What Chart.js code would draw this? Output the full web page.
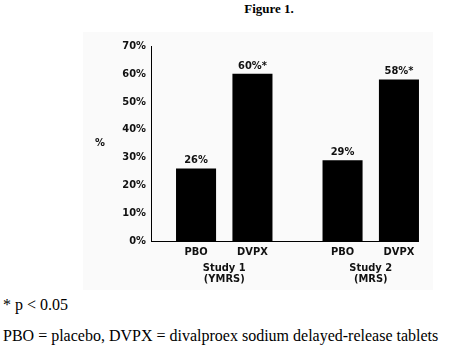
<!DOCTYPE html>
<html>
<head>
<meta charset="utf-8">
<script src="https://cdn.jsdelivr.net/npm/chart.js@4/dist/chart.umd.min.js"></script>
<style>
  body { margin: 0; width: 450px; height: 353px; background: #fff; position: relative; overflow: hidden; }
  #panel { position: absolute; left: 83px; top: 32px; width: 350px; height: 258px; background: #fafafa; }
  #wrap { position: absolute; left: 0; top: 0; width: 450px; height: 290px; }
  .title { position: absolute; top: 1px; left: 219px; width: 100px; text-align: center; font: bold 13px "Liberation Serif", serif; color: #000; }
  .note { position: absolute; left: 3px; font: 16px "Liberation Serif", serif; color: #000; white-space: nowrap; }
</style>
</head>
<body>
<div class="title">Figure 1.</div>
<div id="panel"></div>
<div id="wrap"><canvas id="chart"></canvas></div>
<div class="note" style="top:296px">* p &lt; 0.05</div>
<div class="note" style="top:327px">PBO = placebo, DVPX = divalproex sodium delayed-release tablets</div>

<script>
const studies = [['Study 1', '(YMRS)'], ['Study 2', '(MRS)']];
const pboValues = [26, 29];
const dvpxValues = [60, 58];
const dvpxSignificant = [true, true];
const pboSignificant = [false, false];
const yMax = 70;
const yStep = 10;

const FONT = "'Liberation Sans Narrow', 'DejaVu Sans Condensed', sans-serif";
const INK = '#111';

// value labels over the bars, arm names under them, the baseline and the "%" title
const barLabels = {
    id: 'barLabels',
    afterDatasetsDraw(chart) {
        const ctx = chart.ctx;
        const area = chart.chartArea;
        ctx.save();
        ctx.font = `bold 11px ${FONT}`;
        ctx.fillStyle = INK;
        ctx.textAlign = 'center';
        ctx.textBaseline = 'middle';

        let lastRight = area.left;
        chart.data.datasets.forEach((ds, i) => {
            chart.getDatasetMeta(i).data.forEach((bar, j) => {
                const star = ds.significant[j] ? '*' : '';
                ctx.fillText(ds.data[j] + '%' + star, bar.x, bar.y - 8);
                ctx.fillText(ds.label, bar.x, area.bottom + 11);
                lastRight = Math.max(lastRight, bar.x + bar.width / 2);
            });
        });

        const yBase = Math.round(area.bottom) + 0.5;
        ctx.strokeStyle = '#000';
        ctx.lineWidth = 1;
        ctx.beginPath();
        ctx.moveTo(area.left, yBase);
        ctx.lineTo(lastRight, yBase);
        ctx.stroke();

        const yScale = chart.scales.y;
        ctx.fillText('%', yScale.left + 17, yScale.getPixelForValue(35));
        ctx.restore();
    }
};

new Chart(document.getElementById('chart'), {
    type: 'bar',
    data: {
        labels: studies,
        datasets: [
            { label: 'PBO', data: pboValues, significant: pboSignificant, backgroundColor: '#000', barPercentage: 0.71, categoryPercentage: 0.77 },
            { label: 'DVPX', data: dvpxValues, significant: dvpxSignificant, backgroundColor: '#000', barPercentage: 0.71, categoryPercentage: 0.77 }
        ]
    },
    options: {
        responsive: true,
        maintainAspectRatio: false,
        devicePixelRatio: 1,
        animation: false,
        layout: { padding: { left: 83, right: 6, top: 46, bottom: 0 } },
        plugins: { legend: { display: false }, tooltip: { enabled: false } },
        scales: {
            x: {
                grid: { display: false, drawTicks: false },
                border: { display: false },
                ticks: { color: INK, padding: 22, font: { family: FONT, size: 11, weight: 'bold', lineHeight: 1 } },
                afterFit: s => { s.height = 49; }
            },
            y: {
                min: 0,
                max: yMax,
                grid: { display: false, drawTicks: false },
                border: { display: true, color: '#000', width: 1 },
                ticks: { stepSize: yStep, padding: 5, color: INK, callback: v => v + '%', font: { family: FONT, size: 11, weight: 'bold' } },
                afterFit: s => { s.width = 68; }
            }
        }
    },
    plugins: [barLabels]
});
</script>
</body>
</html>
